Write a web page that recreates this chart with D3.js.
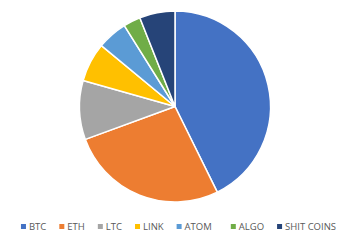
<!DOCTYPE html>
<html><head><meta charset="utf-8">
<script src="https://cdn.jsdelivr.net/npm/d3@7/dist/d3.min.js"></script>
<style>html,body{margin:0;padding:0;background:#fff;}svg{display:block;}</style>
</head><body>
<svg id="c" width="355" height="240"></svg>
<script>
const categories = ["BTC","ETH","LTC","LINK","ATOM","ALGO","SHIT COINS"];
const values = [42.7, 26.7, 10.0, 6.6, 5.1, 2.9, 6.0];
const colors = ["#4472C4","#ED7D31","#A5A5A5","#FFC000","#5B9BD5","#70AD47","#264478"];

const svg = d3.select("#c");
const cx = 175, cy = 106.5, r = 95.5;
const data = categories.map((c,i)=>({name:c, value:values[i], color:colors[i]}));
const pie = d3.pie().value(d=>d.value).sort(null);
const arc = d3.arc().innerRadius(0).outerRadius(r);
svg.append("g").attr("transform",`translate(${cx},${cy})`)
  .selectAll("path").data(pie(data)).join("path")
  .attr("d",arc).attr("fill",d=>d.data.color)
  .attr("stroke","#fff").attr("stroke-width",1.5).attr("stroke-linejoin","round");

const lg = svg.append("g");
let x = 0;
const gap = 13;
data.forEach((d,i)=>{
  const g = lg.append("g").attr("transform",`translate(${x},0)`);
  g.append("rect").attr("x",0).attr("y",-4).attr("width",5).attr("height",5).attr("fill",d.color);
  const t = g.append("text").attr("x",8).attr("y",1.5)
    .attr("font-family","'Open Sans', 'Liberation Sans', sans-serif").attr("font-size",9.5)
    .attr("fill","#595959").text(d.name);
  const w = t.node().getComputedTextLength();
  x += 8 + w + gap + (d.name==="ATOM" ? 6 : 0);
});
const total = x - gap;
lg.attr("transform",`translate(${(355-total)/2+1},228)`);
</script>
</body></html>
